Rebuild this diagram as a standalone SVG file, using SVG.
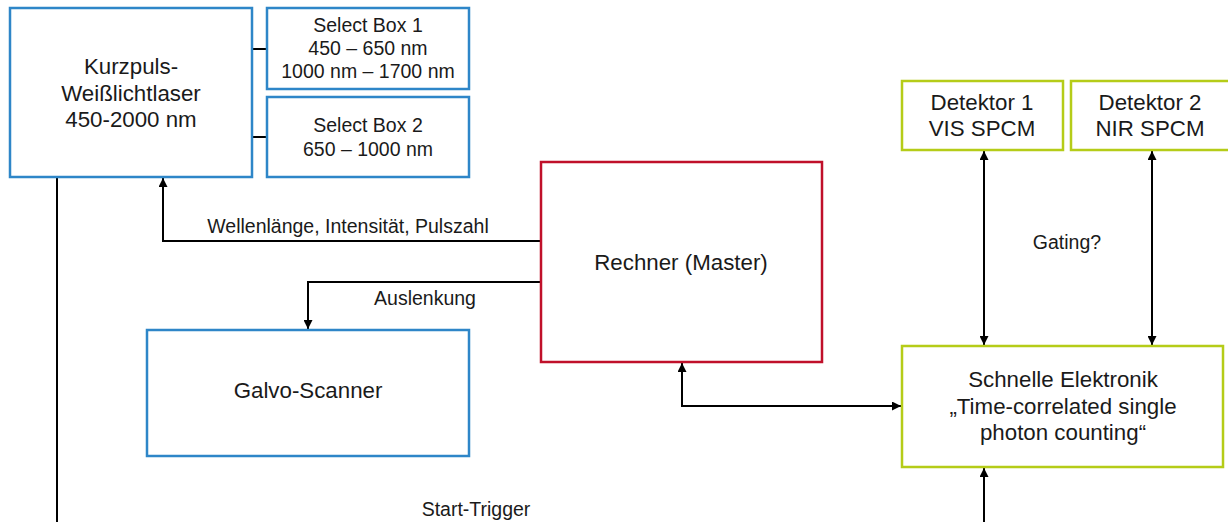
<svg xmlns="http://www.w3.org/2000/svg" width="1228" height="522" viewBox="0 0 1228 522">
  <style>
    .box { fill: #ffffff; stroke-width: 2.5; }
    .blue { stroke: #2E86C8; }
    .red { stroke: #C0102A; }
    .green { stroke: #B5CC18; }
    .big { font-family: "Liberation Sans", Arial, sans-serif; font-size: 22.3px; fill: #1a1a1a; text-anchor: middle; }
    .small { font-family: "Liberation Sans", Arial, sans-serif; font-size: 19.5px; fill: #1a1a1a; text-anchor: middle; }
    .wire { fill: none; stroke: #000000; stroke-width: 2; }
  </style>
  <defs>
    <marker id="arrow" viewBox="0 0 10 10" refX="10" refY="5" markerWidth="4.5" markerHeight="4.5" markerUnits="strokeWidth" orient="auto-start-reverse">
      <path d="M0,0 L10,5 L0,10 z" fill="#000000"/>
    </marker>
  </defs>
  <rect width="1228" height="522" fill="#ffffff"/>

  <!-- connectors -->
  <g id="connectors">
    <line class="wire" x1="252" y1="49" x2="267" y2="49"/>
    <line class="wire" x1="252" y1="137" x2="267" y2="137"/>
    <path class="wire" d="M541,241 H163 V178" marker-end="url(#arrow)"/>
    <path class="wire" d="M541,282 H308 V329" marker-end="url(#arrow)"/>
    <path class="wire" d="M682,363 V406 H901" marker-start="url(#arrow)" marker-end="url(#arrow)"/>
    <line class="wire" x1="984" y1="151" x2="984" y2="345" marker-start="url(#arrow)" marker-end="url(#arrow)"/>
    <line class="wire" x1="1152" y1="151" x2="1152" y2="345" marker-start="url(#arrow)" marker-end="url(#arrow)"/>
    <line class="wire" x1="984" y1="522" x2="984" y2="468" marker-end="url(#arrow)"/>
    <line class="wire" x1="57" y1="178" x2="57" y2="522"/>
    <text class="small" x="348" y="233">Wellenlänge, Intensität, Pulszahl</text>
    <text class="small" x="425" y="305">Auslenkung</text>
    <text class="small" x="1067" y="249">Gating?</text>
    <text class="small" x="476" y="516">Start-Trigger</text>
  </g>

  <!-- laser source -->
  <g id="laser">
    <rect class="box blue" x="10" y="8" width="242" height="169"/>
    <text class="big" x="131" y="74">Kurzpuls-</text>
    <text class="big" x="131" y="100.5">Weißlichtlaser</text>
    <text class="big" x="131" y="127">450-2000 nm</text>
  </g>

  <g id="select-box-1">
    <rect class="box blue" x="267" y="8" width="202" height="81"/>
    <text class="small" x="368" y="32">Select Box 1</text>
    <text class="small" x="368" y="55">450 – 650 nm</text>
    <text class="small" x="368" y="78">1000 nm – 1700 nm</text>
  </g>

  <g id="select-box-2">
    <rect class="box blue" x="267" y="97" width="202" height="80"/>
    <text class="small" x="368" y="132">Select Box 2</text>
    <text class="small" x="368" y="156">650 – 1000 nm</text>
  </g>

  <g id="rechner">
    <rect class="box red" x="541" y="162" width="281" height="200"/>
    <text class="big" x="681" y="270">Rechner (Master)</text>
  </g>

  <g id="galvo">
    <rect class="box blue" x="147" y="330" width="322" height="126"/>
    <text class="big" x="308" y="398">Galvo-Scanner</text>
  </g>

  <g id="detektor-1">
    <rect class="box green" x="902" y="81" width="161" height="69"/>
    <text class="big" x="982" y="110">Detektor 1</text>
    <text class="big" x="982" y="136">VIS SPCM</text>
  </g>

  <g id="detektor-2">
    <rect class="box green" x="1071" y="81" width="162" height="69"/>
    <text class="big" x="1150" y="110">Detektor 2</text>
    <text class="big" x="1150" y="136">NIR SPCM</text>
  </g>

  <g id="elektronik">
    <rect class="box green" x="902" y="346" width="321" height="121"/>
    <text class="big" x="1063" y="387">Schnelle Elektronik</text>
    <text class="big" x="1063" y="413.5">„Time-correlated single</text>
    <text class="big" x="1063" y="440">photon counting“</text>
  </g>
</svg>
